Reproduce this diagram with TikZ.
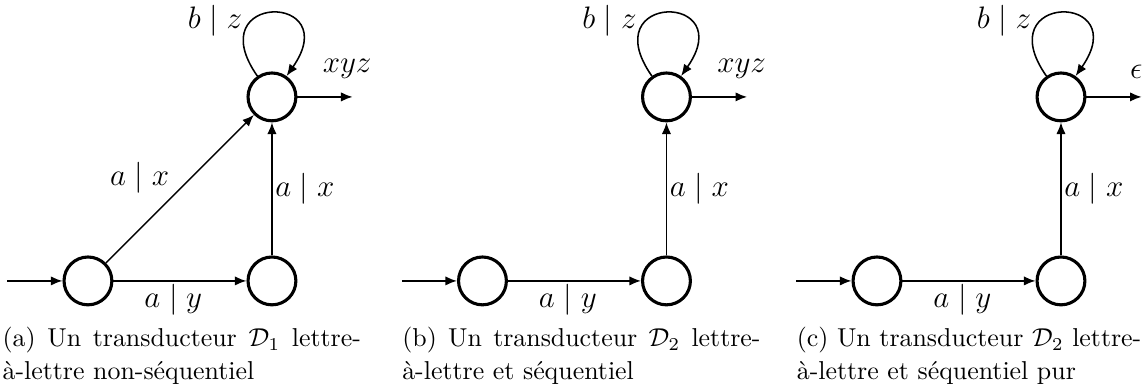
\documentclass[tikz,border=0pt]{standalone}
\usepackage{amsmath, amssymb}
\usepackage{tikz}
\usetikzlibrary{arrows.meta, positioning}

\tikzset{
    state/.style={circle, draw, line width=1.2pt, minimum size=6.5mm, inner sep=0pt},
    trans/.style={-{Latex[length=4.5pt, width=3.6pt]}, semithick},
    lbl/.style={font=\large, inner sep=1pt},
    capt/.style={anchor=north west, inner sep=0pt, align=left, font=\fontsize{10}{10.8}\selectfont},
}

\begin{document}
\begin{tikzpicture}[node distance=2.5cm, on grid]
    \useasboundingbox (-34pt,-40.2pt) rectangle (409.4pt,108.6pt);

    % (a) non-sequential
    \node[state] (a0) at (0,0) {};
    \node[state, right=of a0] (a1) {};
    \node[state, above=of a1] (a2) {};
    \coordinate[left=0.75cm of a0.west] (a-s);
    \coordinate[right=0.75cm of a2.east] (a-f);
    \draw[trans] (a-s) -- (a0);
    \draw[trans] (a0) -- node[lbl, below, pos=0.45] {$a \mid y$} (a1);
    \draw[trans] (a0) -- node[lbl, above left, pos=0.45] {$a \mid x$} (a2);
    \draw[trans] (a1) -- node[lbl, right] {$a \mid x$} (a2);
    \draw[trans] (a2) to[out=125, in=55, looseness=9] node[lbl, pos=0.32, left=2pt] {$b \mid z$} (a2);
    \draw[trans] (a2) -- node[lbl, pos=0.9, above=2mm] {$xyz$} (a-f);
    \node[capt] (a-cap) at ([xshift=-2pt, yshift=-17.8pt]a-s)
        {\makebox[138.5pt][s]{(a) Un transducteur $\mathcal{D}_1$ lettre-}\\[2pt]à-lettre non-séquentiel};

    % (b) sequential
    \begin{scope}[xshift=5.36cm]
        \node[state] (b0) at (0,0) {};
        \node[state, right=of b0] (b1) {};
        \node[state, above=of b1] (b2) {};
        \coordinate[left=0.75cm of b0.west] (b-s);
        \coordinate[right=0.75cm of b2.east] (b-f);
        \draw[trans] (b-s) -- (b0);
        \draw[trans] (b0) -- node[lbl, below, pos=0.45] {$a \mid y$} (b1);
        \draw[trans] (b1) -- node[lbl, right] {$a \mid x$} (b2);
        \draw[trans] (b2) to[out=125, in=55, looseness=9] node[lbl, pos=0.32, left=2pt] {$b \mid z$} (b2);
        \draw[trans] (b2) -- node[lbl, pos=0.9, above=2mm] {$xyz$} (b-f);
        \node[capt] (b-cap) at ([yshift=-17.8pt]b-s)
            {\makebox[138.5pt][s]{(b) Un transducteur $\mathcal{D}_2$ lettre-}\\[2pt]à-lettre et séquentiel};
    \end{scope}

    % (c) pure sequential
    \begin{scope}[xshift=10.72cm]
        \node[state] (c0) at (0,0) {};
        \node[state, right=of c0] (c1) {};
        \node[state, above=of c1] (c2) {};
        \coordinate[left=0.75cm of c0.west] (c-s);
        \coordinate[right=0.75cm of c2.east] (c-f);
        \draw[trans] (c-s) -- (c0);
        \draw[trans] (c0) -- node[lbl, below, pos=0.45] {$a \mid y$} (c1);
        \draw[trans] (c1) -- node[lbl, right] {$a \mid x$} (c2);
        \draw[trans] (c2) to[out=125, in=55, looseness=9] node[lbl, pos=0.32, left=2pt] {$b \mid z$} (c2);
        \draw[trans] (c2) -- node[lbl, pos=0.9, above=2mm] {$\epsilon$} (c-f);
        \node[capt] (c-cap) at ([yshift=-17.8pt]c-s)
            {(c) Un transducteur $\mathcal{D}_2$ lettre-\\[2pt]à-lettre et séquentiel pur};
    \end{scope}
\end{tikzpicture}
\end{document}
